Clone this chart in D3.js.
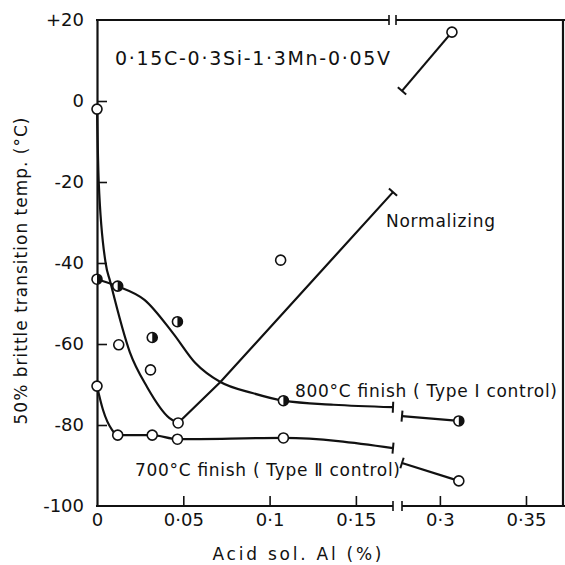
<!DOCTYPE html>
<html>
<head>
<meta charset="utf-8">
<script src="https://cdn.jsdelivr.net/npm/d3@7"></script>
<style>
body{margin:0;background:#fff;}
text{font-family:"DejaVu Sans",Arial,sans-serif;fill:#111;}
</style>
</head>
<body>
<script>
// measured points (Acid sol. Al %, transition temp °C)
var normX = [0, 0.0126, 0.031, 0.047, 0.1064, 0.307];
var normY = [-2, -60.2, -66.4, -79.5, -39.3, 17];
var f800X = [0, 0.012, 0.032, 0.0466, 0.108, 0.311];
var f800Y = [-44, -45.7, -58.4, -54.5, -74, -79];
var f700X = [0, 0.012, 0.032, 0.0466, 0.108, 0.311];
var f700Y = [-70.4, -82.5, -82.5, -83.5, -83.2, -93.8];

// hand fitted curves
var normDownX = [0, 0.001, 0.005, 0.0076, 0.019, 0.029, 0.042, 0.047];
var normDownY = [-2, -20, -40, -44.5, -62, -70.6, -78.3, -79.5];
var normUpX = [0.047, 0.0715, 0.1715];
var normUpY = [-79.5, -69.4, -22.5];
var normTopX = [0.278, 0.307];
var normTopY = [2.5, 17];
var c800X = [0, 0.0117, 0.0275, 0.044, 0.057, 0.0715, 0.09, 0.108, 0.137, 0.1715];
var c800Y = [-44, -45.7, -49.1, -57.3, -64.7, -69.4, -72.1, -74, -75, -75.6];
var c800TopX = [0.278, 0.311];
var c800TopY = [-77.8, -79];
var c700X = [0, 0.0035, 0.0087, 0.012, 0.032, 0.0466, 0.108, 0.1715];
var c700Y = [-70.4, -76.3, -81.2, -82.5, -82.5, -83.5, -83.2, -85.7];
var c700TopX = [0.278, 0.311];
var c700TopY = [-89.4, -93.8];

var xTicks = [0, 0.05, 0.1, 0.15, 0.3, 0.35];
var xTickLabels = ["0", "0·05", "0·1", "0·15", "0·3", "0·35"];
var yTicks = [20, 0, -20, -40, -60, -80, -100];
var yTickLabels = ["+20", "0", "-20", "-40", "-60", "-80", "-100"];
var breakA = 0.1715, breakB = 0.278; // broken x axis

var width = 565, height = 565;

var x = d3.scaleLinear()
    .domain([0, breakA, breakB, 0.3715])
    .range([97, 393, 402, 563]);
var y = d3.scaleLinear()
    .domain([-100, 20])
    .range([506, 20]);

var svg = d3.select("body").append("svg").attr("width", width).attr("height", height);

var xAxis = d3.axisBottom(x).tickValues(xTicks)
    .tickFormat(function(d, i){ return xTickLabels[i]; })
    .tickSizeInner(-10).tickSizeOuter(0).tickPadding(7);
var yAxis = d3.axisLeft(y).tickValues(yTicks)
    .tickFormat(function(d, i){ return yTickLabels[i]; })
    .tickSizeInner(-10).tickSizeOuter(0).tickPadding(13);

var gx = svg.append("g").attr("transform", "translate(0," + y(-100) + ")").call(xAxis);
gx.select(".domain").remove();
var gy = svg.append("g").attr("transform", "translate(" + x(0) + ",0)").call(yAxis);
svg.selectAll(".tick line").attr("stroke", "#111").attr("stroke-width", 1.6);
gy.select(".domain").attr("stroke", "#111").attr("stroke-width", 2.2);
svg.selectAll(".tick text").attr("font-size", 18).attr("fill", "#111")
    .style("font-family", '"DejaVu Sans",Arial,sans-serif');
gx.selectAll(".tick").filter(function(d){ return d === 0; }).select("line").remove();
gy.selectAll(".tick").filter(function(d){ return d === 20 || d === -100; }).select("line").remove();

// frame with the axis break
var frame = svg.append("g").attr("stroke", "#111").attr("stroke-width", 2.2).attr("fill", "none");
[y(-100), y(20)].forEach(function(yy, k){
  var a = x(breakA) - (k ? 4 : 0), b = x(breakB) - (k ? 6 : 0);
  frame.append("line").attr("x1", x(0) - 1).attr("x2", a).attr("y1", yy).attr("y2", yy);
  frame.append("line").attr("x1", b).attr("x2", width).attr("y1", yy).attr("y2", yy);
  frame.append("line").attr("x1", a).attr("x2", a).attr("y1", yy - 5).attr("y2", yy + 5).attr("stroke-width", 1.6);
  frame.append("line").attr("x1", b).attr("x2", b).attr("y1", yy - 5).attr("y2", yy + 5).attr("stroke-width", 1.6);
});
frame.append("line").attr("x1", 563).attr("x2", 563).attr("y1", y(20)).attr("y2", y(-100));

// curves
function drawCurve(xs, ys, curve, capStart, capEnd) {
  var pts = xs.map(function(d, i){ return [x(d), y(ys[i])]; });
  svg.append("path").datum(pts)
    .attr("d", d3.line().curve(curve))
    .attr("fill", "none").attr("stroke", "#111").attr("stroke-width", 2.2);
  function cap(p, q) {
    var dx = q[0] - p[0], dy = q[1] - p[1], l = Math.sqrt(dx*dx + dy*dy);
    var nx = -dy / l * 5.5, ny = dx / l * 5.5;
    svg.append("line").attr("x1", p[0] + nx).attr("y1", p[1] + ny)
      .attr("x2", p[0] - nx).attr("y2", p[1] - ny)
      .attr("stroke", "#111").attr("stroke-width", 2);
  }
  if (capStart) cap(pts[0], pts[1]);
  if (capEnd) cap(pts[pts.length - 1], pts[pts.length - 2]);
}
drawCurve(normDownX, normDownY, d3.curveMonotoneX, false, false);
drawCurve(normUpX, normUpY, d3.curveLinear, false, true);
drawCurve(normTopX, normTopY, d3.curveLinear, true, false);
drawCurve(c800X, c800Y, d3.curveMonotoneX, false, true);
drawCurve(c800TopX, c800TopY, d3.curveLinear, true, false);
drawCurve(c700X, c700Y, d3.curveMonotoneX, false, true);
drawCurve(c700TopX, c700TopY, d3.curveLinear, true, false);

// markers
var r = 5;
function openPts(xs, ys) {
  svg.append("g").selectAll("circle").data(xs).enter().append("circle")
    .attr("cx", function(d){ return x(d); })
    .attr("cy", function(d, i){ return y(ys[i]); })
    .attr("r", r).attr("fill", "#fff").attr("stroke", "#111").attr("stroke-width", 1.6);
}
openPts(normX, normY);
openPts(f700X, f700Y);
openPts(f800X, f800Y);
svg.append("g").selectAll("path").data(f800X).enter().append("path")
  .attr("d", function(d, i){
    var cx = x(d), cy = y(f800Y[i]);
    return "M" + cx + "," + (cy - r) + "A" + r + "," + r + " 0 0 1 " + cx + "," + (cy + r) + "Z";
  })
  .attr("fill", "#111");

// labels
function label(t, px, py, len, size) {
  svg.append("text").attr("x", px).attr("y", py).attr("font-size", size || 18)
    .attr("textLength", len).attr("lengthAdjust", "spacing").text(t);
}
label("0·15C-0·3Si-1·3Mn-0·05V", 115, 65, 275, 19);
label("Normalizing", 386, 227, 109, 17);
label("800°C  finish ( Type Ⅰ control)", 295, 397, 262, 17);
label("700°C  finish ( Type Ⅱ control)", 135, 476, 265, 17);

svg.append("text").attr("x", 297).attr("y", 560).attr("text-anchor", "middle")
  .attr("font-size", 17).attr("textLength", 169).attr("lengthAdjust", "spacing")
  .text("Acid sol. Al  (%)");
svg.append("text").attr("transform", "translate(27,271) rotate(-90)")
  .attr("text-anchor", "middle").attr("font-size", 17)
  .attr("textLength", 307).attr("lengthAdjust", "spacing")
  .text("50% brittle transition temp. (°C)");
</script>
</body>
</html>
